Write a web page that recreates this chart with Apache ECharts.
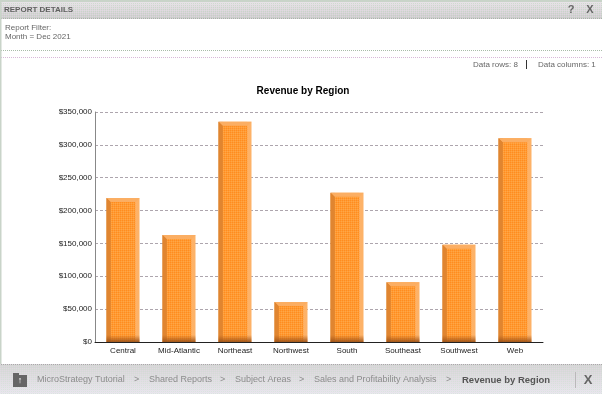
<!DOCTYPE html>
<html>
<head>
<meta charset="utf-8">
<style>
html, body { margin: 0; padding: 0; background: #fff; }
#chart { width: 602px; height: 394px; }
</style>
<script src="https://cdn.jsdelivr.net/npm/echarts@6/dist/echarts.min.js"></script>
</head>
<body>
<div id="chart"></div>
<script>
const regions = ['Central', 'Mid-Atlantic', 'Northeast', 'Northwest', 'South', 'Southeast', 'Southwest', 'Web'];
const revenue = [219000, 163000, 335000, 61000, 227000, 91000, 148000, 310000];
const crumbs = ['MicroStrategy Tutorial', '>', 'Shared Reports', '>', 'Subject Areas', '>', 'Sales and Profitability Analysis', '>'];
const crumbX = [37, 134, 149, 220, 235, 299, 314, 446];

const font = 'Liberation Sans, Arial, sans-serif';
const chart = echarts.init(document.getElementById('chart'), null, { renderer: 'canvas' });

// small checker tile, the reference panels are dithered
function dither(c1, c2) {
    const cv = document.createElement('canvas');
    cv.width = 2;
    cv.height = 2;
    const ctx = cv.getContext('2d');
    ctx.fillStyle = c1;
    ctx.fillRect(0, 0, 1, 1);
    ctx.fillStyle = c2;
    ctx.fillRect(1, 1, 1, 1);
    return { image: cv, repeat: 'repeat' };
}
function label(x, y, text, size, color, weight, align) {
    return {
        type: 'text', x: x, y: y, silent: true,
        style: {
            text: text, fontFamily: font, fontSize: size, fill: color,
            fontWeight: weight || 'normal', textAlign: align || 'left', textVerticalAlign: 'middle'
        }
    };
}
function box(x, y, w, h, fill) {
    return { type: 'rect', shape: { x: x, y: y, width: w, height: h }, style: { fill: fill }, silent: true };
}
function dotted(y, color) {
    return {
        type: 'line', shape: { x1: 1, y1: y, x2: 602, y2: y }, silent: true,
        style: { stroke: color, lineWidth: 1, lineDash: [1, 1] }
    };
}

const chrome = [
    box(0, 0, 602, 2, '#c9d4c9'),
    { type: 'rect', shape: { x: 0, y: 2, width: 602, height: 17 }, silent: true,
      style: { fill: new echarts.graphic.LinearGradient(0, 0, 0, 1, [
          { offset: 0, color: '#e6e6e6' }, { offset: 1, color: '#cccccc' }]) } },
    box(0, 2, 602, 17, dither('rgba(235,215,235,0.5)', 'rgba(190,205,190,0.5)')),
    dotted(18.5, '#a9b5a9'),
    label(4, 10, 'REPORT DETAILS', 8, '#5f5f5f', 'bold'),
    label(571, 10, '?', 11, '#666666', 'bold', 'center'),
    label(590, 10, 'X', 11, '#666666', 'bold', 'center'),
    label(5, 28, 'Report Filter:', 8, '#666666'),
    label(5, 37, 'Month = Dec 2021', 8, '#666666'),
    dotted(50.5, '#a8bca8'),
    dotted(57.5, '#d8b8d8'),
    box(0, 0, 1.5, 364, '#c9d4c9'),
    label(473, 65, 'Data rows: 8', 8, '#666666'),
    box(526, 60, 1, 9, '#333333'),
    label(538, 65, 'Data columns: 1', 8, '#666666'),
    { type: 'rect', shape: { x: 0, y: 364, width: 602, height: 30 }, silent: true,
      style: { fill: new echarts.graphic.LinearGradient(0, 0, 0, 1, [
          { offset: 0, color: '#d4d4d4' }, { offset: 1, color: '#e8e8ee' }]) } },
    box(0, 364, 602, 30, dither('rgba(235,220,235,0.4)', 'rgba(205,220,205,0.4)')),
    dotted(364.5, '#a9a9a9'),
    box(13, 375, 14, 12, '#666666'),
    box(13, 373, 6, 2, '#666666'),
    label(20, 381, '↑', 9, '#ffffff', 'bold', 'center'),
    label(462, 380, 'Revenue by Region', 9.5, '#555555', 'bold'),
    label(588, 380, 'X', 13, '#666666', 'bold', 'center'),
    box(575, 372, 1, 16, '#b9b9b9')
];
crumbs.forEach(function (c, i) {
    chrome.push(label(crumbX[i], 380, c, 9, '#8c8c8c'));
});

const bodyTile = dither('#ff8c1f', '#ffa647');

// bevels on top of the plain bars: light cap, dark left edge, soft dark foot
function renderBevel(params, api) {
    const i = api.value(0);
    const top = api.coord([i, api.value(1)]);
    const base = api.coord([i, 0]);
    const w = 33;
    const l = top[0] - w / 2;
    const t = top[1];
    const b = base[1];
    return {
        type: 'group',
        children: [
            { type: 'rect', shape: { x: l + 4, y: t + 4, width: w - 8, height: b - t - 4 },
              style: { fill: bodyTile } },
            { type: 'polygon', shape: { points: [[l, t], [l + w, t], [l + w - 4, t + 4], [l + 4, t + 4]] },
              style: { fill: '#fbae63' } },
            { type: 'polygon', shape: { points: [[l, t], [l + 4, t + 4], [l + 4, b], [l, b]] },
              style: { fill: '#e08530' } },
            { type: 'rect', shape: { x: l, y: b - 7, width: w, height: 7 },
              style: { fill: new echarts.graphic.LinearGradient(0, 0, 0, 1, [
                  { offset: 0, color: 'rgba(170,85,20,0)' }, { offset: 1, color: 'rgba(150,80,25,0.9)' }]) } }
        ]
    };
}

chart.setOption({
    animation: false,
    backgroundColor: '#ffffff',
    title: {
        text: 'Revenue by Region', left: 298, top: 81, textAlign: 'center',
        textStyle: { fontFamily: font, fontSize: 10, fontWeight: 'bold', color: '#000000' }
    },
    grid: { left: 95, right: 59, top: 112, bottom: 52 },
    xAxis: {
        type: 'category', data: regions,
        axisLine: { lineStyle: { color: '#222222', width: 1 } },
        axisTick: { show: false },
        axisLabel: { fontFamily: font, fontSize: 8, color: '#222222', margin: 5, interval: 0 }
    },
    yAxis: {
        type: 'value', min: 0, max: 350000, interval: 50000,
        axisLine: { show: true, lineStyle: { color: '#888888', width: 1 } },
        axisTick: { show: false },
        axisLabel: {
            fontFamily: font, fontSize: 8, color: '#222222', margin: 3,
            formatter: function (v) { return '$' + v.toLocaleString('en-US'); }
        },
        splitLine: { lineStyle: { color: '#ada5ad', type: [3, 2], width: 1 } }
    },
    series: [
        {
            type: 'bar', data: revenue, barWidth: 33, z: 2,
            itemStyle: {
                color: new echarts.graphic.LinearGradient(0, 0, 1, 0, [
                    { offset: 0, color: '#e08530' }, { offset: 0.12, color: '#e08530' },
                    { offset: 0.13, color: '#ff9a33' }, { offset: 0.87, color: '#ff9a33' },
                    { offset: 0.88, color: '#fdb268' }, { offset: 1, color: '#fdb268' }
                ])
            }
        },
        {
            type: 'custom', renderItem: renderBevel, z: 5,
            coordinateSystem: 'cartesian2d',
            data: revenue.map(function (v, i) { return [i, v]; }),
            encode: { x: 0, y: 1 }, silent: true
        }
    ],
    graphic: chrome
});
window.addEventListener('resize', function () {
    chart.resize();
});
</script>
</body>
</html>
